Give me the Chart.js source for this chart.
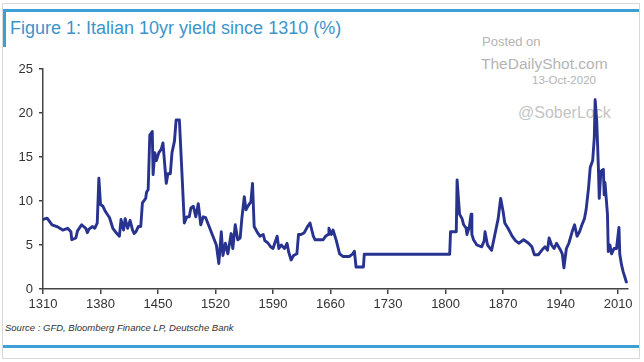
<!DOCTYPE html>
<html>
<head>
<meta charset="utf-8">
<script src="https://cdn.jsdelivr.net/npm/chart.js@4.4.0/dist/chart.umd.min.js"></script>
<style>
    body { margin: 0; background: #fff; }
    #wrap { position: relative; width: 644px; height: 362px; overflow: hidden; background: #fff; }
    .frame { position: absolute; left: 2px; top: 3px; width: 636px; height: 354px; border: 1px solid #d9d9d9; }
    .bar { position: absolute; background: #3d9fd3; }
    .wm { position: absolute; color: #b4b4b4; font-family: "Liberation Sans", Arial, sans-serif; white-space: nowrap; }
    #title { position: absolute; left: 10px; top: 18px; font: 18px "Liberation Sans Narrow", "Arial Narrow", Arial, sans-serif; color: #3b95cb; white-space: nowrap; }
    #source { position: absolute; left: 5px; top: 322px; font: italic 9.5px "Liberation Sans", Arial, sans-serif; color: #333; white-space: nowrap; }
    #myChart { position: absolute; left: 0; top: 0; }
</style>
</head>
<body>
<div id="wrap">
    <div class="frame"></div>
    <div class="bar" style="left:3px;top:9px;width:636px;height:3px;"></div>
    <div class="bar" style="left:3px;top:9px;width:3px;height:38px;"></div>
    <div class="bar" style="left:3px;top:345px;width:636px;height:3px;"></div>
    <div id="title">Figure 1: Italian 10yr yield since 1310 (%)</div>
    <div class="wm" style="left:482px;top:34px;font-size:13px;">Posted on</div>
    <div class="wm" style="left:481px;top:55px;font-size:15.5px;">TheDailyShot.com</div>
    <div class="wm" style="left:532px;top:74px;font-size:11.5px;">13-Oct-2020</div>
    <div class="wm" style="left:518px;top:104px;font-size:16px;color:#c4c4c4;">@SoberLock</div>
    <div id="source">Source : GFD, Bloomberg Finance LP, Deutsche Bank</div>
    <canvas id="myChart" width="644" height="362"></canvas>
</div>
<script>
    // Italian 10yr yield (%)
    var years = [
        1310, 1315, 1321, 1327, 1334, 1340, 1344, 1345, 1350, 1352, 1357, 1362, 1364, 1366, 1370, 1373, 1376, 1378, 1380, 1383,
        1386, 1391, 1395, 1399, 1403, 1405, 1408, 1410, 1413, 1416, 1419, 1421, 1423, 1426, 1429, 1431, 1435, 1436, 1438, 1440,
        1443, 1444, 1446, 1448, 1451, 1454, 1456, 1460, 1462, 1465, 1467, 1470, 1472, 1476, 1479, 1482, 1485, 1488, 1490, 1493,
        1496, 1499, 1502, 1505, 1508, 1513, 1521, 1524, 1527, 1529, 1532, 1535, 1539, 1541, 1544, 1547, 1550, 1552, 1555, 1557,
        1560, 1563, 1565, 1567, 1571, 1574, 1578, 1580, 1584, 1587, 1590, 1592, 1595, 1597, 1600, 1604, 1607, 1609, 1612, 1615,
        1619, 1621, 1624, 1628, 1632, 1635, 1639, 1641, 1651, 1654, 1657, 1658, 1661, 1663, 1667, 1671, 1675, 1683, 1687, 1689,
        1691, 1700, 1701, 1805, 1806, 1813, 1814, 1817, 1820, 1822, 1825, 1826, 1829, 1831, 1832, 1834, 1838, 1844, 1847, 1848,
        1851, 1856, 1860, 1864, 1867, 1870, 1872, 1876, 1881, 1885, 1889, 1895, 1901, 1905, 1908, 1913, 1917, 1921, 1924, 1926,
        1929, 1932, 1935, 1940, 1942, 1944, 1947, 1950, 1954, 1957, 1960, 1963, 1966, 1969, 1971, 1974, 1976, 1979, 1981, 1982,
        1984, 1986, 1987, 1989, 1992, 1993, 1994, 1997, 1998, 2000, 2002, 2005, 2008, 2011, 2012, 2014, 2016, 2020
    ];
    var yields = [
        7.9, 8.05, 7.3, 7.1, 6.7, 6.9, 6.5, 5.6, 5.8, 6.6, 7.3, 6.9, 6.4, 6.8, 7.1, 6.9, 7.5, 12.6, 9.6, 9.4,
        8.8, 8.1, 6.9, 6.4, 6.0, 7.9, 6.7, 8.0, 6.9, 7.8, 6.7, 6.3, 6.5, 7.1, 7.1, 9.8, 10.3, 11.0, 11.3, 17.5,
        17.9, 13.0, 15.5, 14.6, 15.5, 15.9, 16.6, 12.0, 13.1, 13.1, 15.5, 16.8, 19.2, 19.2, 13.4, 7.5, 8.2, 8.2, 9.2, 9.4,
        8.2, 9.7, 7.3, 8.2, 8.1, 6.9, 5.0, 2.9, 6.5, 3.8, 5.2, 4.0, 6.3, 4.6, 7.3, 5.6, 5.8, 8.0, 10.5, 9.0,
        9.5, 9.9, 12.0, 7.1, 6.4, 6.0, 6.2, 5.5, 5.2, 4.8, 4.6, 5.2, 6.0, 4.6, 5.0, 4.6, 5.2, 4.2, 3.3, 3.8,
        4.0, 6.2, 6.2, 6.4, 7.1, 7.5, 6.0, 5.6, 5.6, 6.0, 6.2, 6.9, 6.2, 6.7, 5.5, 4.0, 3.7, 3.7, 4.0, 4.3,
        2.5, 2.5, 3.95, 3.95, 6.5, 6.5, 12.4, 8.5, 8.0, 7.3, 6.9, 6.2, 7.1, 8.5, 6.2, 5.6, 5.0, 4.8, 5.5, 6.5,
        5.0, 4.4, 6.2, 8.0, 10.3, 8.8, 7.5, 6.9, 6.0, 5.5, 5.2, 5.6, 5.2, 4.8, 3.9, 3.9, 4.4, 4.8, 4.4, 5.8,
        5.0, 4.6, 5.2, 4.4, 4.0, 2.4, 4.6, 5.2, 6.5, 7.3, 6.0, 6.5, 7.3, 8.0, 9.0, 11.5, 13.8, 14.6, 17.2, 21.5,
        19.0, 13.7, 10.3, 13.4, 13.6, 10.7, 12.1, 8.5, 4.25, 5.0, 4.0, 4.6, 4.6, 7.0, 3.95, 2.8, 2.0, 0.8
    ];
    var xTicks = [1310, 1380, 1450, 1520, 1590, 1660, 1730, 1800, 1870, 1940, 2010];
    var yTicks = [0, 5, 10, 15, 20, 25];

    var axisColor = '#444';
    var tickFont = { family: '"Liberation Sans", Arial, sans-serif', size: 13 };

    var ctx = document.getElementById('myChart').getContext('2d');
    var myChart = new Chart(ctx, {
        type: 'line',
        data: {
            datasets: [{
                data: years.map(function(yr, i) { return { x: yr, y: yields[i] }; }),
                borderColor: '#28338f',
                borderWidth: 2.9,
                borderJoinStyle: 'round',
                borderCapStyle: 'round',
                pointRadius: 0,
                tension: 0,
                fill: false
            }]
        },
        options: {
            responsive: false,
            animation: false,
            layout: { padding: { top: 69, right: 16, bottom: 42, left: 0 } },
            plugins: {
                legend: { display: false },
                tooltip: { enabled: false }
            },
            scales: {
                x: {
                    type: 'linear',
                    min: 1310,
                    max: 2022,
                    afterBuildTicks: function(scale) {
                        scale.ticks = xTicks.map(function(v) { return { value: v }; });
                    },
                    afterFit: function(scale) { scale.height = 31; },
                    grid: { drawOnChartArea: false, drawTicks: true, tickLength: 5, color: axisColor, lineWidth: 1.5 },
                    border: { color: axisColor, width: 1.5 },
                    ticks: { font: tickFont, color: '#333', maxRotation: 0, padding: 3, autoSkip: false,
                        callback: function(v) { return String(v); } }
                },
                y: {
                    min: 0,
                    max: 25,
                    afterBuildTicks: function(scale) {
                        scale.ticks = yTicks.map(function(v) { return { value: v }; });
                    },
                    afterFit: function(scale) { scale.width = 43; },
                    grid: { drawOnChartArea: false, drawTicks: true, tickLength: 4, color: axisColor, lineWidth: 1.5 },
                    border: { color: axisColor, width: 1.5 },
                    ticks: { font: tickFont, color: '#333', padding: 6 }
                }
            }
        }
    });
</script>
</body>
</html>
